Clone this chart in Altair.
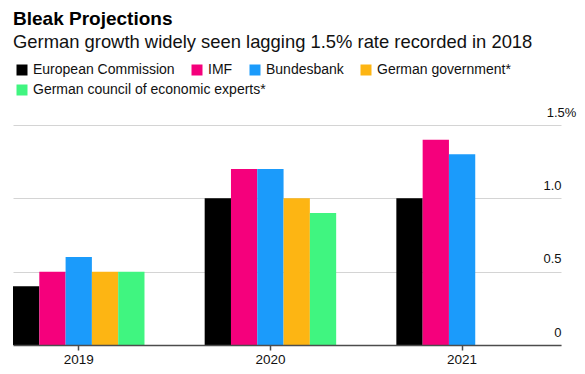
import altair as alt
import pandas as pd

years = ["2019", "2020", "2021"]
series = ["European Commission", "IMF", "Bundesbank", "German government*",
          "German council of economic experts*"]
colors = ["#000000", "#f5007c", "#1b9bfb", "#fdb513", "#40f580"]

ec = [0.4, 1.0, 1.0]
imf = [0.5, 1.2, 1.4]
bundesbank = [0.6, 1.2, 1.3]
government = [0.5, 1.0, None]
council = [0.5, 0.9, None]

y_ticks = [0, 0.5, 1.0, 1.5]

rows = []
for name, vals in zip(series, [ec, imf, bundesbank, government, council]):
    for yr, v in zip(years, vals):
        if v is not None:
            rows.append({"year": yr, "source": name, "growth": v})
df = pd.DataFrame(rows)

FONT = "Liberation Sans"
first_row = series[:4]
second_row = series[4:]


def legend_params(y):
    return dict(title=None, orient="none", legendX=2, legendY=y,
                direction="horizontal", symbolType="square", symbolSize=121,
                symbolStrokeWidth=0, symbolOpacity=1,
                labelFontSize=14, labelFont=FONT, labelLimit=400,
                labelColor="#111111", labelOffset=4,
                columnPadding=15, padding=0)


x_enc = alt.X("year:N", sort=years,
              scale=alt.Scale(paddingInner=0.314, paddingOuter=0.0865, align=0),
              axis=alt.Axis(title=None, labelAngle=0, domainColor="#4d4d4d",
                            domainWidth=1.5, tickColor="#4d4d4d", tickWidth=1.5,
                            tickSize=5, labelPadding=2, labelFontSize=13.5,
                            labelColor="#111111", labelFont=FONT, zindex=2))
xo_enc = alt.XOffset("source:N", sort=series,
                     scale=alt.Scale(domain=series, paddingInner=0, paddingOuter=0))
y_enc = alt.Y("growth:Q", scale=alt.Scale(domain=[0, 1.5], nice=False),
              axis=alt.Axis(title=None, orient="right", values=y_ticks,
                            labelExpr="datum.value == 0 ? '0' : (datum.value == 1.5 ? '1.5%' : format(datum.value, '.1f'))",
                            grid=True, gridColor="#d4d4d4", gridWidth=1,
                            domain=False, ticks=False, tickSize=0,
                            labelPadding=0,
                            labelAlign={"condition": {"test": "datum.value == 1.5", "value": "center"}, "value": "right"},
                            labelBaseline="alphabetic", labelOffset=-9,
                            labelFontSize=13, labelColor="#111111", labelFont=FONT))

base = alt.Chart(df)

bars_a = base.transform_filter(
    alt.FieldOneOfPredicate(field="source", oneOf=first_row)
).mark_bar().encode(
    x=x_enc, xOffset=xo_enc, y=y_enc,
    color=alt.Color("source:N", sort=first_row,
                    scale=alt.Scale(domain=first_row, range=colors[:4]),
                    legend=alt.Legend(**legend_params(-62))),
)

bars_b = base.transform_filter(
    alt.FieldOneOfPredicate(field="source", oneOf=second_row)
).mark_bar().encode(
    x=x_enc, xOffset=xo_enc, y=y_enc,
    fill=alt.Fill("source:N",
                  scale=alt.Scale(domain=second_row, range=colors[4:]),
                  legend=alt.Legend(**legend_params(-42))),
)

chart = alt.layer(bars_a, bars_b).resolve_scale(
    color="independent", fill="independent"
).properties(
    width=548,
    height=220,
    autosize=alt.AutoSizeParams(type="none"),
    padding={"left": 5, "top": 117, "right": 16, "bottom": 21},
    title=alt.TitleParams(
        text="Bleak Projections",
        subtitle="German growth widely seen lagging 1.5% rate recorded in 2018",
        anchor="start", frame="group", font=FONT, fontSize=19, fontWeight="bold",
        color="#000000", subtitleFont=FONT, subtitleFontSize=18.4,
        subtitleColor="#111111", subtitlePadding=4, offset=12,
    ),
).configure_view(stroke=None)

chart.save("out.html", embed_options={"renderer": "svg", "actions": False})
